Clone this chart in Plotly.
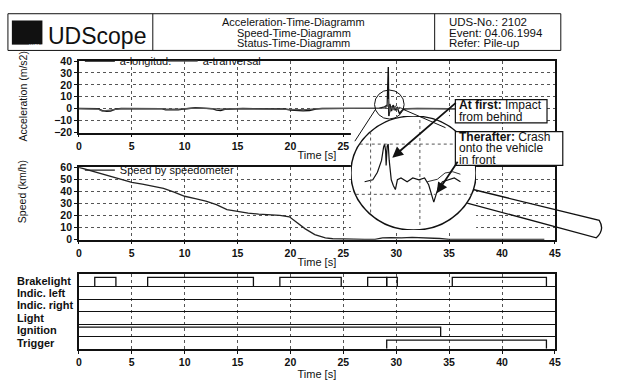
import plotly.graph_objects as go

W, H = 622, 380


def px(x):
    return x / W


def py(y):
    return 1 - y / H


FONT = "Liberation Sans, Arial, sans-serif"

# ---------------- data ----------------
time_ticks = [0, 5, 10, 15, 20, 25, 30, 35, 40, 45]
acc_ticks = [-20, -10, 0, 10, 20, 30, 40]
speed_ticks = [0, 10, 20, 30, 40, 50, 60]

t_acc = [0, 1, 1.8, 2.2, 2.6, 3.0, 3.4, 4, 5, 6, 7, 7.8, 8.2, 8.8, 9.4, 10, 10.5, 11,
         11.8, 12.6, 13.0, 13.4, 13.8, 14.5, 15.5, 16.5, 17.5, 18.5, 19.5, 20.0, 20.6,
         21.2, 21.8, 22.4, 23, 24, 25, 26, 27, 27.8, 28.4, 28.9, 29.15, 29.25, 29.3,
         29.4, 29.55, 29.7, 29.9, 30.1, 30.3, 30.6, 31, 32, 33, 34, 35, 36, 38, 40, 42, 44]
a_long = [0.2, 0.2, 0, -1.5, -2.2, -2.0, -0.5, 0.2, 0.3, 0.4, 0.4, 0, -1.0, -1.2, -1.0,
          -0.2, 0.6, 0.8, 0.5, 0, -1.2, -1.5, -0.5, 0, 0.2, 0, 0, 0.1, -0.3, -1.2, -1.8,
          -1.8, -1.5, -0.3, 0.2, 0.3, 0, 0, 0.2, 0.3, 0.5, 1.5, 3, 35, -8, 4, -2, 3, -1,
          1, -4, -1, 0, 0.3, 0, 0.2, 0, 0, 0, 0, 0, 0]
a_trans = [0, 0, -0.3, -2.0, -1.5, -1.2, -0.2, 0, 0, 0.1, 0.1, 0, -0.4, -0.6, -0.4, 0,
           0.3, 0.4, 0.2, 0, -0.5, -0.8, -0.3, 0, 0, 0, 0, 0, 0, -0.5, -0.8, -0.8, -0.6,
           0, 0, 0, 0, 0, 0, 0, 0.2, 0.5, 2, 8, 3, -3, 2, -1, 2, 0, 1, 0, 0, 0, 0, 0, 0,
           0, 0, 0, 0, 0]

t_speed = [0, 1, 2, 3, 4, 5, 6, 7, 8, 9, 10, 11, 12, 13, 14, 15, 16, 17, 18, 19, 19.9,
           20.5, 21.4, 22.3, 23.3, 24, 25, 26, 27, 28, 28.7, 29.5, 30.5, 31.5, 32.5, 33.5,
           34.1, 35, 40, 44]
speed = [60, 57.5, 55.5, 53, 50, 47.5, 46, 44, 42.5, 39.5, 36, 34, 32, 29, 25, 23.5, 22,
         21.2, 20.6, 20.2, 19, 15, 9, 4.3, 1.6, 0.8, 0.5, 0.3, 0.3, 0.3, 1.5, 1.8, 1.5, 2,
         1.6, 1.8, 1.0, 0.2, 0.2, 0.2]

# magnified view (inset inside the magnifying glass)
t_zoom = [28.88, 29.04, 29.13, 29.21, 29.25, 29.27, 29.29, 29.30, 29.32, 29.34, 29.36,
          29.40, 29.44, 29.48, 29.52, 29.59, 29.71, 29.82, 29.94, 30.05, 30.13, 30.19,
          30.23, 30.27, 30.32, 30.40, 30.52, 30.63, 30.75]
a_zoom = [-5.0, -4.2, -1.2, 3.5, 8.8, 10, 7.3, 1.5, 9.2, 10, 3.5, -4.2, -6.5, -8.1, -4.2,
          -3.5, -5, -3.5, -4.2, -3.5, -6.2, -10, -13.1, -10.4, -7.3, -5, -4.2, -3.5, -5]
t_zoom2 = [30.1, 30.3, 30.45, 30.6, 30.75]
a_zoom2 = [-5, -4, -1.5, -1, -2]
zoom_t_range = [28.612, 31.055]
zoom_a_range = [-24.23, 21.15]

status_rows = ["Brakelight", "Indic. left", "Indic. right", "Light", "Ignition", "Trigger"]
brake_on = [1.5, 6.5, 19.0, 27.3, 29.1, 35.3]
brake_off = [3.5, 16.5, 24.8, 29.1, 30.1, 44.2]
ignition_off = 34.2
trigger_on, trigger_off = 29.1, 44.2

header_title = ["Acceleration-Time-Diagramm", "Speed-Time-Diagramm", "Status-Time-Diagramm"]
header_info = ["UDS-No.: 2102", "Event: 04.06.1994", "Refer: Pile-up"]
callout1 = ["<b>At first:</b> Impact", "from behind"]
callout2 = ["<b>Therafter:</b> Crash", "onto the vehicle", "in front"]

# ---------------- figure ----------------
fig = go.Figure()

fig.add_trace(go.Scatter(x=t_acc, y=a_long, mode="lines", name="a-longitud.",
                         line=dict(color="#111111", width=1.4), xaxis="x", yaxis="y",
                         legend="legend"))
fig.add_trace(go.Scatter(x=t_acc, y=a_trans, mode="lines", name="a-tranversal",
                         line=dict(color="#555555", width=1.2), xaxis="x", yaxis="y",
                         legend="legend3"))
fig.add_trace(go.Scatter(x=t_speed, y=speed, mode="lines", name="Speed by speedometer",
                         line=dict(color="#222222", width=1.3), xaxis="x2", yaxis="y2",
                         legend="legend2"))

nrows = len(status_rows)
brake_base = nrows - 1
for on, off in zip(brake_on, brake_off):
    fig.add_trace(go.Scatter(x=[on, on, off, off], y=[brake_base + 0.03, brake_base + 0.77,
                                                        brake_base + 0.77, brake_base + 0.03],
                             mode="lines", line=dict(color="#111", width=1.3),
                             xaxis="x3", yaxis="y3", showlegend=False))
ign_base = nrows - 1 - status_rows.index("Ignition")
fig.add_trace(go.Scatter(x=[0, ignition_off, ignition_off], y=[ign_base + 0.75, ign_base + 0.75, ign_base],
                         mode="lines", line=dict(color="#111", width=1.3),
                         xaxis="x3", yaxis="y3", showlegend=False))
trg_base = nrows - 1 - status_rows.index("Trigger")
fig.add_trace(go.Scatter(x=[trigger_on, trigger_on, trigger_off, trigger_off],
                         y=[trg_base, trg_base + 0.7, trg_base + 0.7, trg_base],
                         mode="lines", line=dict(color="#111", width=1.3),
                         xaxis="x3", yaxis="y3", showlegend=False))

fig.add_trace(go.Scatter(x=t_zoom, y=a_zoom, mode="lines", line=dict(color="#111", width=1.2),
                         xaxis="x4", yaxis="y4", showlegend=False))
fig.add_trace(go.Scatter(x=t_zoom2, y=a_zoom2, mode="lines", line=dict(color="#333", width=1),
                         xaxis="x4", yaxis="y4", showlegend=False))

tickfont = dict(family=FONT, size=10.5, color="#111", weight="bold")
common_x = dict(range=[0, 45], tickvals=time_ticks, ticks="outside", ticklen=3,
                tickcolor="#111", tickfont=tickfont, showgrid=True, griddash="dot",
                gridcolor="#555", gridwidth=1, showline=True, mirror=True,
                linecolor="#111", linewidth=1.5, zeroline=False,
                domain=[px(77), px(560)],
                title=dict(text="Time [s]", font=dict(family=FONT, size=11, color="#111"),
                           standoff=0))
common_y = dict(ticks="outside", ticklen=3, tickcolor="#111", tickfont=tickfont,
                showgrid=True, griddash="dot", gridcolor="#555", gridwidth=1,
                showline=True, mirror=True, linecolor="#111", linewidth=1.5,
                zeroline=False)

legend_font = dict(family=FONT, size=11, color="#111")
fig.update_layout(
    width=W, height=H, margin=dict(l=0, r=0, t=0, b=0),
    paper_bgcolor="white", plot_bgcolor="white",
    font=dict(family=FONT, color="#111"),
    xaxis=dict(common_x, anchor="y"),
    yaxis=dict(common_y, range=[-20, 40], tickvals=acc_ticks,
               domain=[py(131), py(57)], anchor="x"),
    xaxis2=dict(common_x, anchor="y2"),
    yaxis2=dict(common_y, range=[0, 60], tickvals=speed_ticks,
                domain=[py(242), py(167)], anchor="x2"),
    xaxis3=dict(common_x, anchor="y3",
                title=dict(text="Time [s]", font=dict(family=FONT, size=11, color="#111"),
                           standoff=4)),
    yaxis3=dict(range=[0, nrows], tickvals=list(range(1, nrows)), showticklabels=False,
                ticks="", showgrid=True, gridcolor="#111", gridwidth=1.2,
                showline=True, mirror=True, linecolor="#111", linewidth=1.5,
                zeroline=False, domain=[py(355), py(278)], anchor="x3"),
    xaxis4=dict(range=zoom_t_range, domain=[px(353), px(480)], anchor="y4",
                showgrid=False, showticklabels=False, showline=False, zeroline=False, ticks=""),
    yaxis4=dict(range=zoom_a_range, domain=[py(232), py(114)], anchor="x4",
                showgrid=False, showticklabels=False, showline=False, zeroline=False, ticks=""),
    legend=dict(x=px(78), y=py(42), xanchor="left", yanchor="top", orientation="h",
                bgcolor="rgba(0,0,0,0)", font=legend_font, itemwidth=30),
    legend3=dict(x=px(162), y=py(42), xanchor="left", yanchor="top", orientation="h",
                 bgcolor="rgba(0,0,0,0)", font=legend_font, itemwidth=30),
    legend2=dict(x=px(78), y=py(155), xanchor="left", yanchor="top", orientation="h",
                 bgcolor="rgba(0,0,0,0)", font=legend_font, itemwidth=30),
)

shapes = []
# header
shapes.append(dict(type="rect", xref="paper", yref="paper", x0=px(5), x1=px(566),
                   y0=py(46), y1=py(8), line=dict(color="#111", width=1)))
for xv in (152, 438):
    shapes.append(dict(type="line", xref="paper", yref="paper", x0=px(xv), x1=px(xv),
                       y0=py(46), y1=py(8), line=dict(color="#111", width=1)))
shapes.append(dict(type="rect", xref="paper", yref="paper", x0=px(9), x1=px(40),
                   y0=py(40), y1=py(15), fillcolor="#111", line=dict(width=0)))
# magnifying glass lens (white, in the inset subplot's own layer)
shapes.append(dict(type="circle", xref="x4", yref="y4", x0=zoom_t_range[0], x1=zoom_t_range[1],
                   y0=zoom_a_range[0], y1=zoom_a_range[1], fillcolor="white",
                   line=dict(color="#111", width=1.5), layer="below"))
shapes.append(dict(type="circle", xref="paper", yref="paper", x0=px(377), x1=px(407),
                   y0=py(117), y1=py(87), line=dict(color="#111", width=1)))
for (x0, y0, x1, y1) in [(378, 107, 357, 140), (406, 107, 449, 126)]:
    shapes.append(dict(type="line", xref="paper", yref="paper", x0=px(x0), y0=py(y0),
                       x1=px(x1), y1=py(y1), line=dict(color="#111", width=1)))
path = "M {} {} L {} {} Q {} {} {} {} L {} {}".format(
    px(477), py(190), px(605), py(222), px(611), py(232), px(602), py(240), px(471), py(204))
shapes.append(dict(type="path", xref="paper", yref="paper", path=path,
                   line=dict(color="#111", width=1.3)))
# inset grid (dotted, clipped to lens)
for (x0, y0, x1, y1) in [(362, 143, 471, 143), (358, 195, 475, 195),
                         (373, 130, 373, 216), (423, 118, 423, 228)]:
    shapes.append(dict(type="line", xref="paper", yref="paper", x0=px(x0), y0=py(y0),
                       x1=px(x1), y1=py(y1), line=dict(color="#555", width=1, dash="dot")))
# callout boxes
for (x0, y0, x1, y1) in [(459, 97, 552, 121), (459, 130, 568, 165)]:
    shapes.append(dict(type="rect", xref="paper", yref="paper", x0=px(x0), x1=px(x1),
                       y0=py(y1), y1=py(y0), fillcolor="white",
                       line=dict(color="#111", width=1.2), layer="above"))

annotations = []
annotations.append(dict(xref="paper", yref="paper", x=px(24.5), y=py(36.5), text="KIENZLE",
                        showarrow=False, font=dict(family=FONT, size=5.5, color="white")))
annotations.append(dict(xref="paper", yref="paper", x=px(44), y=py(31), xanchor="left",
                        yanchor="middle", text="UDScope", showarrow=False,
                        font=dict(family=FONT, size=23, color="#111")))
for i, line in enumerate(header_title):
    annotations.append(dict(xref="paper", yref="paper", x=px(295), y=py(16.5 + 11 * i),
                            xanchor="center", yanchor="middle",
                            text=line, showarrow=False,
                            font=dict(family=FONT, size=11, color="#111")))
for i, line in enumerate(header_info):
    annotations.append(dict(xref="paper", yref="paper", x=px(451), y=py(16.5 + 11 * i),
                            xanchor="left", yanchor="middle", text=line, showarrow=False,
                            font=dict(family=FONT, size=11.5, color="#111")))
# y axis titles
annotations.append(dict(xref="paper", yref="paper", x=px(20), y=py(94), text="Acceleration (m/s2)",
                        xanchor="center", yanchor="middle",
                        textangle=-90, showarrow=False, font=dict(family=FONT, size=10.5, color="#111")))
annotations.append(dict(xref="paper", yref="paper", x=px(20), y=py(192), text="Speed (km/h)",
                        xanchor="center", yanchor="middle",
                        textangle=-90, showarrow=False, font=dict(family=FONT, size=10.5, color="#111")))
# status row labels
for k, lab in enumerate(status_rows):
    annotations.append(dict(xref="paper", yref="y3", x=px(12), y=nrows - k - 0.5, xanchor="left",
                            yanchor="middle", text=lab, showarrow=False,
                            font=dict(family=FONT, size=11, color="#111", weight="bold")))
# callout texts
for i, line in enumerate(callout1):
    annotations.append(dict(xref="paper", yref="paper", x=px(461), y=py(103 + 11.5 * i),
                            xanchor="left", yanchor="middle", text=line, showarrow=False,
                            font=dict(family=FONT, size=12, color="#111")))
for i, line in enumerate(callout2):
    annotations.append(dict(xref="paper", yref="paper", x=px(461), y=py(136 + 11.5 * i),
                            xanchor="left", yanchor="middle", text=line, showarrow=False,
                            font=dict(family=FONT, size=12, color="#111")))
annotations.append(dict(xref="paper", yref="paper", x=px(395), y=py(157), ax=65, ay=-56,
                        text="", showarrow=True, arrowhead=2, arrowsize=1.2, arrowwidth=1.8,
                        arrowcolor="#111"))
annotations.append(dict(xref="paper", yref="paper", x=px(440), y=py(194), ax=22, ay=-33,
                        text="", showarrow=True, arrowhead=2, arrowsize=1.2, arrowwidth=1.8,
                        arrowcolor="#111"))

fig.update_layout(shapes=shapes, annotations=annotations)
fig.write_html("out.html", config={"displayModeBar": False},
               post_script="document.body.style.margin='0';document.body.style.overflow='hidden';")
